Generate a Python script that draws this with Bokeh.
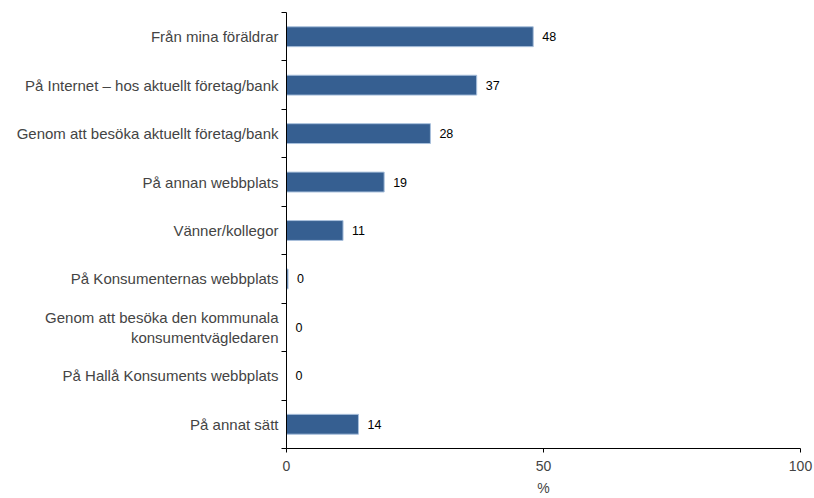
from bokeh.plotting import figure
from bokeh.models import Range1d, FixedTicker, ColumnDataSource
from bokeh.embed import file_html
from bokeh.resources import INLINE
from bokeh.core.properties import value

categories = [
    "Från mina föräldrar",
    "På Internet – hos aktuellt företag/bank",
    "Genom att besöka aktuellt företag/bank",
    "På annan webbplats",
    "Vänner/kollegor",
    "På Konsumenternas webbplats",
    "Genom att besöka den kommunala\nkonsumentvägledaren",
    "På Hallå Konsuments webbplats",
    "På annat sätt",
]
values = [48, 37, 28, 19, 11, 0.3, 0, 0, 14]
value_labels = ["48", "37", "28", "19", "11", "0", "0", "0", "14"]
x_ticks = [0, 50, 100]

n = len(categories)
ypos = [n - 1 - i + 0.5 for i in range(n)]

src = ColumnDataSource(dict(y=ypos, v=values, lab=value_labels))

p = figure(width=814, height=498, output_backend="svg", toolbar_location=None,
           x_range=Range1d(0, 100), y_range=Range1d(0, n),
           min_border_left=286, min_border_right=14, min_border_top=12, min_border_bottom=46)
p.outline_line_color = None
p.xgrid.visible = False
p.ygrid.visible = False
p.background_fill_color = "white"
p.border_fill_color = "white"

p.hbar(y="y", right="v", left=0, height=0.41, source=src,
       fill_color="#365f91", line_color="#a9c0dc", line_width=1)
p.text(x="v", y="y", text="lab", source=src, x_offset=9,
       text_font=value("Liberation Sans"), text_font_size="12.5px",
       text_baseline="middle", text_align="left", text_color="black")

# x axis
xa = p.xaxis[0]
xa.ticker = FixedTicker(ticks=x_ticks, minor_ticks=[])
xa.bounds = (0, 100)
xa.axis_line_color = "black"
xa.major_tick_out = 4
xa.major_tick_in = 0
xa.major_tick_line_color = "black"
xa.major_label_text_font = "Liberation Sans"
xa.major_label_text_font_size = "14px"
xa.major_label_standoff = 8
xa.axis_label = "%"
xa.axis_label_text_font = "Liberation Sans"
xa.axis_label_text_font_size = "14px"
xa.axis_label_text_font_style = "normal"
xa.axis_label_standoff = 6

# y axis
ya = p.yaxis[0]
ya.ticker = FixedTicker(ticks=ypos, minor_ticks=list(range(0, n + 1)))
ya.bounds = (0, n)
ya.major_label_overrides = {y: c for y, c in zip(ypos, categories)}
ya.axis_line_color = "black"
ya.major_tick_out = 0
ya.major_tick_in = 0
ya.minor_tick_out = 5
ya.minor_tick_in = 0
ya.minor_tick_line_color = "black"
ya.major_label_text_font = "Liberation Sans"
ya.major_label_text_font_size = "15px"
ya.major_label_standoff = 3
ya.major_label_text_align = "right"

open("out.html", "w").write(file_html(p, INLINE))
